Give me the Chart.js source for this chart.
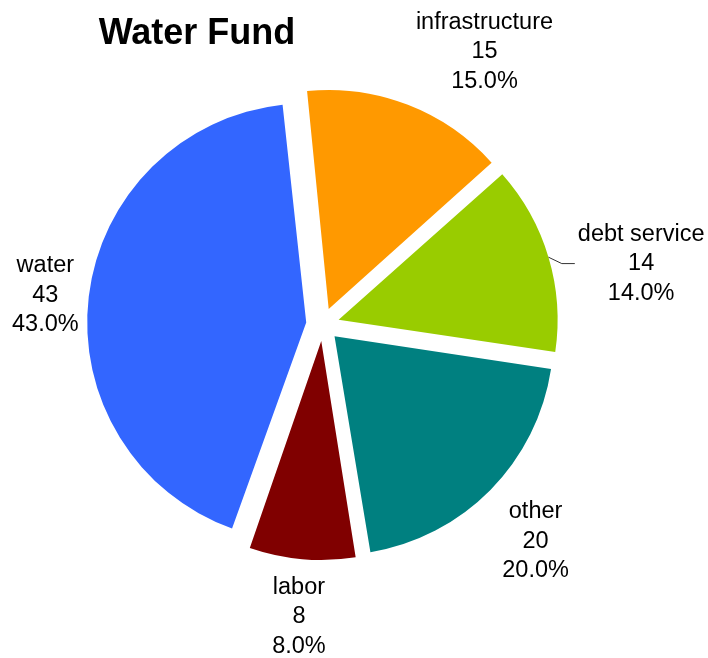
<!DOCTYPE html>
<html>
<head>
<meta charset="utf-8">
<script src="https://cdn.jsdelivr.net/npm/chart.js@4"></script>
<style>
  html, body { margin: 0; padding: 0; background: #fff; }
  #wrap { width: 708px; height: 658px; }
</style>
</head>
<body>
<div id="wrap"><canvas id="fundChart" width="708" height="658"></canvas></div>
<script>
const categories = ['infrastructure', 'debt service', 'other', 'labor', 'water'];
const amounts = [15, 14, 20, 8, 43];
const sliceColors = ['#FF9900', '#99CC00', '#008080', '#800000', '#3366FF'];

const PIE_RADIUS = 219;
const EXPLODE = 16.6;       // how far each slice is pulled out
const LABEL_GAP = 246;      // distance from centre to the label box
const LINE_H = 29.5;
const LABEL_FONT = '23.5px "Liberation Sans", Arial, sans-serif';
// small hand adjustments so labels don't crowd each other
const labelNudge = [[48, -4], [22, 20], [14, 11], [0, 1], [0, 3]];

// chart.js grows exploded arcs a bit; keep every slice at the same radius
const evenRadius = {
    id: 'evenRadius',
    afterDatasetUpdate(chart, args) {
        args.meta.data.forEach(arc => {
            const k = (arc.options.offset || 0) / 4;
            const fix = 1 - Math.sin(Math.min(Math.PI, arc.circumference));
            arc.outerRadius = PIE_RADIUS - k * fix;
        });
    }
};

const sliceLabels = {
    id: 'sliceLabels',
    afterDraw(chart) {
        const ctx = chart.ctx;
        const meta = chart.getDatasetMeta(0);
        const total = amounts.reduce((a, b) => a + b, 0);

        ctx.save();
        ctx.fillStyle = '#000';
        ctx.font = 'bold 36px "Liberation Sans", Arial, sans-serif';
        ctx.textAlign = 'center';
        ctx.textBaseline = 'alphabetic';
        ctx.fillText('Water Fund', 197, 44);

        ctx.font = LABEL_FONT;
        meta.data.forEach((arc, i) => {
            const mid = (arc.startAngle + arc.endAngle) / 2;
            const cx = Math.cos(mid), cy = Math.sin(mid);
            const lines = [categories[i], String(amounts[i]), (amounts[i] / total * 100).toFixed(1) + '%'];
            const w = Math.max(...lines.map(s => ctx.measureText(s).width));
            const h = LINE_H * lines.length;

            const bx = arc.x + cx * LABEL_GAP + cx * w / 2 + labelNudge[i][0];
            const by = arc.y + cy * LABEL_GAP + cy * h / 2 + labelNudge[i][1];

            // leader line when the label sits well away from its slice
            const ax = arc.x + cx * (EXPLODE + PIE_RADIUS);
            const ay = arc.y + cy * (EXPLODE + PIE_RADIUS);
            const nx = Math.max(bx - w / 2, Math.min(ax, bx + w / 2));
            const ny = Math.max(by - h / 2, Math.min(ay, by + h / 2));
            if (Math.hypot(nx - ax, ny - ay) > 20) {
                const side = cx >= 0 ? 1 : -1;
                const endX = bx - side * (w / 2 + 3);
                ctx.beginPath();
                ctx.strokeStyle = '#333';
                ctx.lineWidth = 1;
                ctx.moveTo(ax, ay);
                ctx.lineTo(endX - side * 13, by + 2);
                ctx.lineTo(endX, by + 2);
                ctx.stroke();
            }

            ctx.fillStyle = '#000';
            ctx.textAlign = 'center';
            lines.forEach((s, j) => {
                ctx.fillText(s, bx, by + 8.5 + (j - 1) * LINE_H);
            });
        });
        ctx.restore();
    }
};

new Chart(document.getElementById('fundChart'), {
    type: 'pie',
    data: {
        labels: categories,
        datasets: [{
            data: amounts,
            backgroundColor: sliceColors,
            borderWidth: 0,
            offset: EXPLODE * 4
        }]
    },
    options: {
        responsive: false,
        animation: false,
        rotation: -5.8,
        radius: PIE_RADIUS,
        layout: { padding: { left: 0, right: 62.6, top: 0, bottom: 9 } },
        plugins: {
            legend: { display: false },
            tooltip: { enabled: false }
        }
    },
    plugins: [evenRadius, sliceLabels]
});
</script>
</body>
</html>
